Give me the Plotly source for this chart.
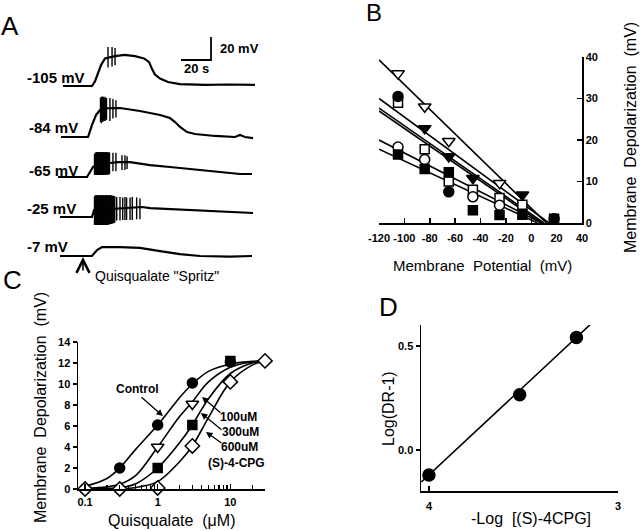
import plotly.graph_objects as go
import math

W, H = 640, 531
FONT = "Liberation Sans, Arial, sans-serif"


def fx(p):
    return p / W


def fy(p):
    return 1 - p / H


# ---------------- Panel A data: recordings (time s, depolarization mV) -------------
A_LABELS = ["-105 mV", "-84 mV", "-65 mV", "-25 mV", "-7 mV"]

A105_T = [2, 21.3, 23.3, 25.3, 27.3, 30, 36.7, 43, 50, 56, 59.3, 61.3, 63.3, 66.7, 72, 80, 97, 113, 130]
A105_V = [0, 0, 4, 11, 18, 24, 26, 27, 26, 24, 21, 15, 10, 6.5, 3.5, 1.7, 0.9, 1.3, 0.9]
A105_SPK_T = [32, 34.7, 36.7]
A105_SPK_TOP = [34, 34, 33]
A105_SPK_BOT = [16, 17, 18]

A84_T = [0.7, 18.7, 21.3, 24, 26.7, 31, 40, 53.3, 66.7, 73.3, 76.7, 80, 84.7, 90, 103.3, 116.7, 120, 123.3, 128.7]
A84_V = [0, 0, 10.4, 19, 23.5, 25, 25.2, 22.6, 19.1, 16.5, 13, 8.7, 4.3, 2.6, 0.9, 0, 1.7, 0, -0.9]
A84_SPK_T = [27, 27.5, 28, 28.5, 29, 29.5, 30, 30.5, 31, 33.3, 35.3, 37.3]
A84_SPK_TOP = [34, 35, 35, 35, 35, 34, 35, 34, 34, 34, 33, 32]
A84_SPK_BOT = [13, 12, 13, 13, 14, 14, 14, 15, 15, 14, 16, 17]

A65_T = [-1.3, 18, 20, 22, 24, 26.7, 33.3, 38.7, 46.7, 60, 73.3, 80, 93.3, 106.7, 120, 128]
A65_V = [0, 0, 4.3, 8.7, 10.4, 10.4, 12.2, 13, 13, 10.4, 8.7, 7.8, 6.1, 4.3, 2.6, 2.6]
A65_SPK_T = [23, 23.5, 24, 24.5, 25, 25.5, 26, 26.5, 27, 27.5, 28, 28.5, 29, 29.5, 30, 30.5,
             31, 31.5, 32, 32.5, 33, 35.3, 37.3, 41.3, 43.3, 44.7]
A65_SPK_TOP = [20, 21, 21.5, 21.7, 21.7, 21.5, 21.7, 21.7, 21.5, 21.7, 21.7, 21.5, 21.7, 21.5,
               21.7, 21.5, 21.7, 21.5, 21.5, 21.3, 21.3, 21, 21, 19, 19, 18]
A65_SPK_BOT = [2, 1.7, 1.7, 1.7, 1.7, 1.7, 1.7, 1.7, 1.7, 1.7, 1.7, 1.7, 1.7, 1.7, 2, 2, 2, 2,
               2, 2.5, 2.5, 5, 5, 6, 6, 7]

A25_T = [0, 21.3, 22.7, 36.7, 54.7, 60, 73.3, 93.3, 113.3, 128.7]
A25_V = [0, 0, 6, 7, 8.7, 7.8, 7, 5.2, 4.3, 3.5]
A25_SPK_T = [23, 23.5, 24, 24.5, 25, 25.5, 26, 26.5, 27, 27.5, 28, 28.5, 29, 29.5, 30, 30.5,
             31, 31.5, 32, 32.5, 33, 33.5, 34, 34.5, 35, 35.5, 36, 36.5,
             37.8, 40, 41.8, 43.3, 44.4, 46.7, 48.2, 51.1, 53.3]
A25_SPK_TOP = [18, 19, 19, 19, 19, 19, 19, 19, 19, 19, 19, 19, 19, 19, 19, 19, 19, 19, 19,
               19, 19, 19, 19, 18.5, 18.5, 18.5, 18, 18, 17.4, 17.4, 17, 17.4, 17, 17, 17.4, 17, 16]
A25_SPK_BOT = [-7, -7, -7, -7, -7, -7, -7, -7, -7, -7, -7, -7, -7, -7, -7, -7, -7, -7, -6.5,
               -6.5, -6.5, -6, -6, -6, -5.5, -5.5, -5, -5, -3, -3, -2.6, -2.6, -2.6, -2.6, -2.6, -2, -2]

A7_T = [0, 10, 15, 21.3, 24.7, 28, 40, 53.3, 66.7, 80, 93.3, 113.3, 128]
A7_V = [0, 0, -0.5, 0, 5.2, 7.8, 7.8, 7, 4.3, 1.7, 0, -0.5, 0]

SCALE_T = 20   # s
SCALE_V = 20   # mV

# ---------------- Panel B data ----------------
B_XTICKS = [-120, -100, -80, -60, -40, -20, 0, 20, 40]
B_YTICKS = [0, 10, 20, 30, 40]
B_OTRI_X = [-105, -84, -65, -25]
B_OTRI_Y = [36, 28, 19.7, 9.6]
B_FTRI_X = [-84, -65, -46, -7]
B_FTRI_Y = [22.8, 16, 10.8, 6.8]
B_OSQ_X = [-105, -84, -65, -46, -25, -7]
B_OSQ_Y = [29, 17.8, 10, 8, 6, 4.4]
B_FCIR_X = [-105, -65, 18]
B_FCIR_Y = [30.5, 7.5, 1]
B_OCIR_X = [-105, -84, -46, -25]
B_OCIR_Y = [18.3, 15.3, 6.3, 4.3]
B_FSQ_X = [-105, -84, -65, -46, -25, -7, 18]
B_FSQ_Y = [16.5, 13, 12.2, 3.1, 1.9, 2, 1]
# regression lines: (V at -120 mV, reversal potential)
B_FIT_START = [39.3, 30, 27.7, 27, 20, 17.8]
B_FIT_REV = [12, 14, 10, 8, 8, 5]

# ---------------- Panel C data ----------------
C_XTICKS = [0.1, 1, 10]
C_XTICKTEXT = ["0.1", "1", "10"]
C_MINOR = [0.2, 0.3, 0.4, 0.5, 0.6, 0.7, 0.8, 0.9, 2, 3, 4, 5, 6, 7, 8, 9, 20, 30]
C_CTRL_X = [0.3, 1, 3, 10]
C_CTRL_Y = [2, 6.1, 10.1, 12.1]
C_100_X = [1, 3]
C_100_Y = [4, 8.1]
C_300_X = [1, 3, 10]
C_300_Y = [2, 6.1, 12.2]
C_600_X = [0.1, 0.3, 1, 3, 10, 30]
C_600_Y = [0, 0, 0.1, 4.1, 10.2, 12.2]
C_OCIR_X = [0.1, 0.3]
C_OCIR_Y = [0, 0]
C_CURVE_X = [0.1, 0.2, 0.3, 0.5, 1, 2, 3, 5, 10, 20, 30]
C_CURVE_CTRL = [0.25, 1.0, 2.0, 3.8, 6.1, 8.7, 10.0, 11.2, 11.9, 12.15, 12.2]
C_CURVE_100 = [0.05, 0.2, 0.45, 1.3, 4.0, 6.9, 8.3, 10.2, 11.6, 12.1, 12.2]
C_CURVE_300 = [0.0, 0.05, 0.12, 0.5, 2.0, 4.4, 6.1, 8.6, 11.0, 12.0, 12.2]
C_CURVE_600 = [0.0, 0.0, 0.03, 0.15, 0.7, 2.6, 4.1, 6.8, 10.2, 11.8, 12.2]

# ---------------- Panel D data ----------------
D_X = [4.0, 3.52, 3.22]
D_Y = [-0.12, 0.265, 0.54]
D_FIT_X = [4.04, 3.12]
D_FIT_Y = [-0.154, 0.625]

# ---------------- layout constants (positions, px) ----------------
A_BASE_PX = [86, 137, 177, 217, 256]
A_X0_PX, A_SEC_PX = 60, 1.5       # time 0 at px 60; 1.5 px per s
A_MV_PX = 1.15                      # px per mV

fig = go.Figure()
BLK = "black"

# ---------- Panel A ----------
a_sets = [
    (A105_T, A105_V, A105_SPK_T, A105_SPK_TOP, A105_SPK_BOT),
    (A84_T, A84_V, A84_SPK_T, A84_SPK_TOP, A84_SPK_BOT),
    (A65_T, A65_V, A65_SPK_T, A65_SPK_TOP, A65_SPK_BOT),
    (A25_T, A25_V, A25_SPK_T, A25_SPK_TOP, A25_SPK_BOT),
    (A7_T, A7_V, [], [], []),
]
for (tt, vv, st, stop, sbot), base in zip(a_sets, A_BASE_PX):
    off = -base / A_MV_PX
    fig.add_trace(go.Scatter(x=tt, y=[v + off for v in vv], mode="lines",
                             line=dict(color=BLK, width=2.2), xaxis="x", yaxis="y",
                             showlegend=False, hoverinfo="skip"))
    if st:
        xs, ys = [], []
        for t, a, b in zip(st, stop, sbot):
            xs += [t, t, None]
            ys += [a + off, b + off, None]
        fig.add_trace(go.Scatter(x=xs, y=ys, mode="lines",
                                 line=dict(color=BLK, width=1.4), xaxis="x", yaxis="y",
                                 showlegend=False, hoverinfo="skip"))

# scale bar
sb_t0 = (181 - A_X0_PX) / A_SEC_PX
sb_y0 = -60 / A_MV_PX
fig.add_trace(go.Scatter(x=[sb_t0, sb_t0 + SCALE_T, sb_t0 + SCALE_T],
                         y=[sb_y0, sb_y0, sb_y0 + SCALE_V], mode="lines",
                         line=dict(color=BLK, width=1.8), xaxis="x", yaxis="y",
                         showlegend=False, hoverinfo="skip"))

# ---------- Panel B ----------
def mk(symbol, fill, xs, ys, xa, ya, size=10):
    fig.add_trace(go.Scatter(x=xs, y=ys, mode="markers", xaxis=xa, yaxis=ya,
                             marker=dict(symbol=symbol, size=size, color=fill,
                                         line=dict(color=BLK, width=1.5)),
                             cliponaxis=False, showlegend=False, hoverinfo="skip"))

for y0, rev in zip(B_FIT_START, B_FIT_REV):
    fig.add_trace(go.Scatter(x=[-120, rev], y=[y0, 0], mode="lines", xaxis="x2", yaxis="y2",
                             line=dict(color=BLK, width=1.6), showlegend=False,
                             hoverinfo="skip", cliponaxis=False))
mk("square", "white", B_OSQ_X, B_OSQ_Y, "x2", "y2", 9)
mk("circle", "white", B_OCIR_X, B_OCIR_Y, "x2", "y2", 10)
mk("square", BLK, B_FSQ_X, B_FSQ_Y, "x2", "y2", 9)
mk("circle", BLK, B_FCIR_X, B_FCIR_Y, "x2", "y2", 10)
mk("triangle-down", BLK, B_FTRI_X, B_FTRI_Y, "x2", "y2", 11)
mk("triangle-down", "white", B_OTRI_X, B_OTRI_Y, "x2", "y2", 11)

# ---------- Panel C ----------
for cy in [C_CURVE_CTRL, C_CURVE_100, C_CURVE_300, C_CURVE_600]:
    fig.add_trace(go.Scatter(x=C_CURVE_X, y=cy, mode="lines", xaxis="x3", yaxis="y3",
                             line=dict(color=BLK, width=1.6, shape="spline", smoothing=1.0),
                             showlegend=False, hoverinfo="skip", cliponaxis=False))
mk("circle", "white", C_OCIR_X, C_OCIR_Y, "x3", "y3", 10)
mk("diamond", "white", C_600_X, C_600_Y, "x3", "y3", 11)
mk("triangle-down", "white", C_100_X, C_100_Y, "x3", "y3", 11)
mk("circle", BLK, C_CTRL_X, C_CTRL_Y, "x3", "y3", 10)
mk("square", BLK, C_300_X, C_300_Y, "x3", "y3", 9)

# ---------- Panel D ----------
fig.add_trace(go.Scatter(x=D_FIT_X, y=D_FIT_Y, mode="lines", xaxis="x4", yaxis="y4",
                         line=dict(color=BLK, width=1.6), showlegend=False,
                         hoverinfo="skip", cliponaxis=False))
mk("circle", BLK, D_X, D_Y, "x4", "y4", 12)

# ---------- axes ----------
ax_common = dict(showline=True, linecolor=BLK, linewidth=1.5, showgrid=False,
                 zeroline=False, tickcolor=BLK, tickwidth=1.5, fixedrange=True)
tickfont = dict(family=FONT, size=11, color=BLK, weight="bold")

layout = dict(
    width=W, height=H, margin=dict(l=0, r=0, t=0, b=0, autoexpand=False),
    paper_bgcolor="white", plot_bgcolor="white", showlegend=False,
    xaxis=dict(domain=[0, fx(300)], range=[(0 - A_X0_PX) / A_SEC_PX, (300 - A_X0_PX) / A_SEC_PX],
               visible=False, anchor="y", fixedrange=True),
    yaxis=dict(domain=[fy(290), fy(30)], range=[-290 / A_MV_PX, -30 / A_MV_PX],
               visible=False, anchor="x", fixedrange=True),
    xaxis2=dict(domain=[fx(379), fx(582)], range=[-120, 40], anchor="y2",
                tickvals=B_XTICKS, ticktext=[str(v) for v in B_XTICKS], tickangle=0,
                ticks="inside", ticklen=5, tickfont=tickfont, ticklabelstandoff=4, **ax_common),
    yaxis2=dict(domain=[fy(223), fy(57)], range=[0, 40], anchor="x2", side="right",
                tickvals=B_YTICKS, ticktext=[str(v) for v in B_YTICKS],
                ticks="inside", ticklen=5, tickfont=tickfont, **ax_common),
    xaxis3=dict(domain=[fx(78), fx(265)], type="log",
                range=[math.log10(0.08), math.log10(30)], anchor="y3",
                tickvals=C_XTICKS, ticktext=C_XTICKTEXT, ticks="inside", ticklen=5, tickangle=0,
                minor=dict(tickvals=C_MINOR, ticks="inside", ticklen=4, tickwidth=1.2,
                           tickcolor=BLK, showgrid=False),
                tickfont=tickfont, ticklabelstandoff=2, **ax_common),
    yaxis3=dict(domain=[fy(489), fy(342)], range=[0, 14], anchor="x3",
                tickvals=[0, 2, 4, 6, 8, 10, 12, 14], ticks="outside", ticklen=4,
                tickfont=tickfont, **ax_common),
    xaxis4=dict(domain=[fx(421), fx(618)], range=[4.042, 3.0], anchor="y4",
                tickvals=[4, 3], ticktext=["4", "3"], ticks="inside", ticklen=5, tickangle=0,
                tickfont=tickfont, ticklabelstandoff=4, **ax_common),
    yaxis4=dict(domain=[fy(491), fy(325)], range=[-0.197, 0.6], anchor="x4",
                tickvals=[0, 0.5], ticktext=["0.0", "0.5"], ticks="outside", ticklen=4,
                tickfont=tickfont, **ax_common),
)
fig.update_layout(**layout)

ann = []


def txt(x, y, s, size=14, xanchor="center", angle=0, bold=False, family=FONT):
    ann.append(dict(x=fx(x), y=fy(y), xref="paper", yref="paper", text=s, showarrow=False,
                    xanchor=xanchor, yanchor="middle", textangle=angle,
                    font=dict(family=family, size=size, color=BLK,
                              weight="bold" if bold else "normal")))


def arrow(hx, hy, tx, ty, head=2, size=1.0, width=1.3):
    ann.append(dict(x=fx(hx), y=fy(hy), xref="paper", yref="paper", text="",
                    showarrow=True, ax=tx - hx, ay=ty - hy, arrowhead=head,
                    arrowsize=size, arrowwidth=width, arrowcolor=BLK))


# panel letters
txt(10, 26, "A", 26)
txt(374, 12, "B", 24)
txt(12, 280, "C", 26)
txt(388, 307, "D", 26)

# panel A labels
A_LAB_RIGHT = [87, 80, 80, 78, 70]
for lab, xr, ycen in zip(A_LABELS, A_LAB_RIGHT, [78, 127, 170, 208, 247]):
    txt(xr, ycen, lab, 15, xanchor="right", bold=True)
txt(218, 48, "20 mV", 13, xanchor="left", bold=True)
txt(196, 68, "20 s", 13, bold=True)
arrow(83, 257, 83, 272, head=5, size=1.6, width=1.6)
txt(93, 276, "Quisqualate \"Spritz\"", 14, xanchor="left")

# panel B titles
txt(482, 265, "Membrane\u00a0\u00a0Potential\u00a0\u00a0(mV)", 15)
txt(630, 138, "Membrane\u00a0\u00a0Depolarization\u00a0\u00a0(mV)", 16, angle=-90)

# panel C titles & annotations
txt(40, 408, "Membrane\u00a0\u00a0Depolarization\u00a0\u00a0(mV)", 16, angle=-90)
txt(171, 520, "Quisqualate\u00a0\u00a0(\u03bcM)", 16)
txt(137, 389, "Control", 12, bold=True)
txt(238, 417, "100uM", 12, bold=True)
txt(240, 432, "300uM", 12, bold=True)
txt(239, 447, "600uM", 12, bold=True)
txt(236, 463, "(S)-4-CPG", 12, bold=True)
arrow(163, 416, 140, 396)
arrow(202, 397, 222, 414)
arrow(201, 413, 223, 431)
arrow(206, 432, 223, 444)

# panel D titles
txt(388, 409, "Log(DR-1)", 16, angle=-90)
txt(531, 518, "-Log\u00a0\u00a0[(S)-4CPG]", 16)

fig.update_layout(annotations=ann)
fig.write_html("out.html", config={"displayModeBar": False, "staticPlot": True},
               post_script="document.body.style.margin='0px';")
